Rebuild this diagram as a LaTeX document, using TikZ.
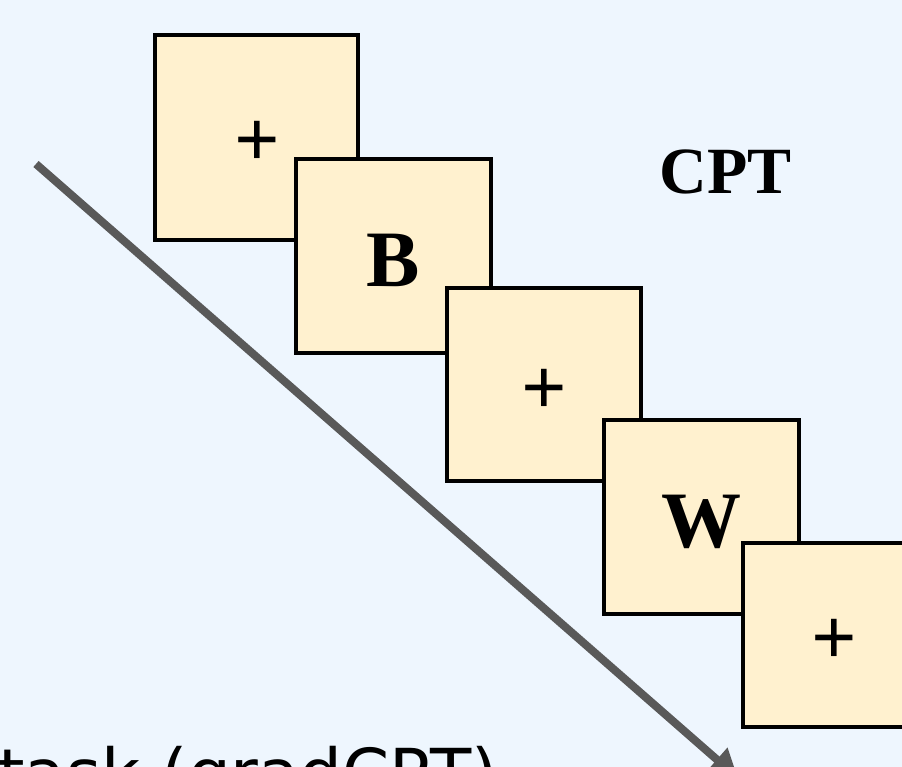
\documentclass[tikz,border=0pt]{standalone}
\usepackage{fontspec}
\setmainfont{Liberation Serif}
\newfontfamily\sansf{DejaVu Sans}
\usetikzlibrary{arrows.meta}

\definecolor{bgblue}{HTML}{EEF6FE}
\definecolor{cream}{HTML}{FFF1CF}
\definecolor{arrowgray}{HTML}{595959}

\tikzset{
  frame/.style={draw=black, fill=cream, line width=4pt, inner sep=0pt, rectangle},
  glyph/.style={anchor=base, inner sep=0pt, font=\fontsize{80}{80}\selectfont\bfseries},
  timeline/.style={draw=arrowgray, line width=8pt, line cap=butt,
    -{Triangle[length=28pt,width=30pt]}},
}

\begin{document}
\begin{tikzpicture}[x=1pt, y=-1pt]
  \useasboundingbox (0,0) rectangle (902,767);
  \clip (0,0) rectangle (902,767);
  \fill[bgblue] (0,0) rectangle (902,767);

  % time axis
  \coordinate (tstart) at (36,164);
  \coordinate (tend) at (738,778);
  \draw[timeline] (tstart) -- (tend);

  % stimulus frames, each one drawn over the previous
  \node[frame, minimum width=203pt, minimum height=205pt] (f1) at (256.5,137.5) {};
  \node[glyph] (s1) at (257,167) {+};

  \node[frame, minimum width=195pt, minimum height=194pt] (f2) at (393.5,256) {};
  \node[glyph] (s2) at (393.5,287) {B};

  \node[frame, minimum width=194pt, minimum height=193pt] (f3) at (544,384.5) {};
  \node[glyph] (s3) at (544,414) {+};

  \node[frame, minimum width=195pt, minimum height=194pt] (f4) at (701.5,517) {};
  \node[glyph] (s4) at (701.5,547) {W};

  \node[frame, minimum width=190pt, minimum height=184pt] (f5) at (838,635) {};
  \node[glyph] (s5) at (834,664) {+};

  % titles
  \node[anchor=base, inner sep=0pt, font=\fontsize{66}{66}\selectfont\bfseries] (cpt) at (725.5,194) {CPT};
  \node[anchor=base west, inner sep=0pt, font=\sansf\fontsize{67.5}{67.5}\selectfont] (task) at (-2,797) {task (gradCPT)};
\end{tikzpicture}
\end{document}
